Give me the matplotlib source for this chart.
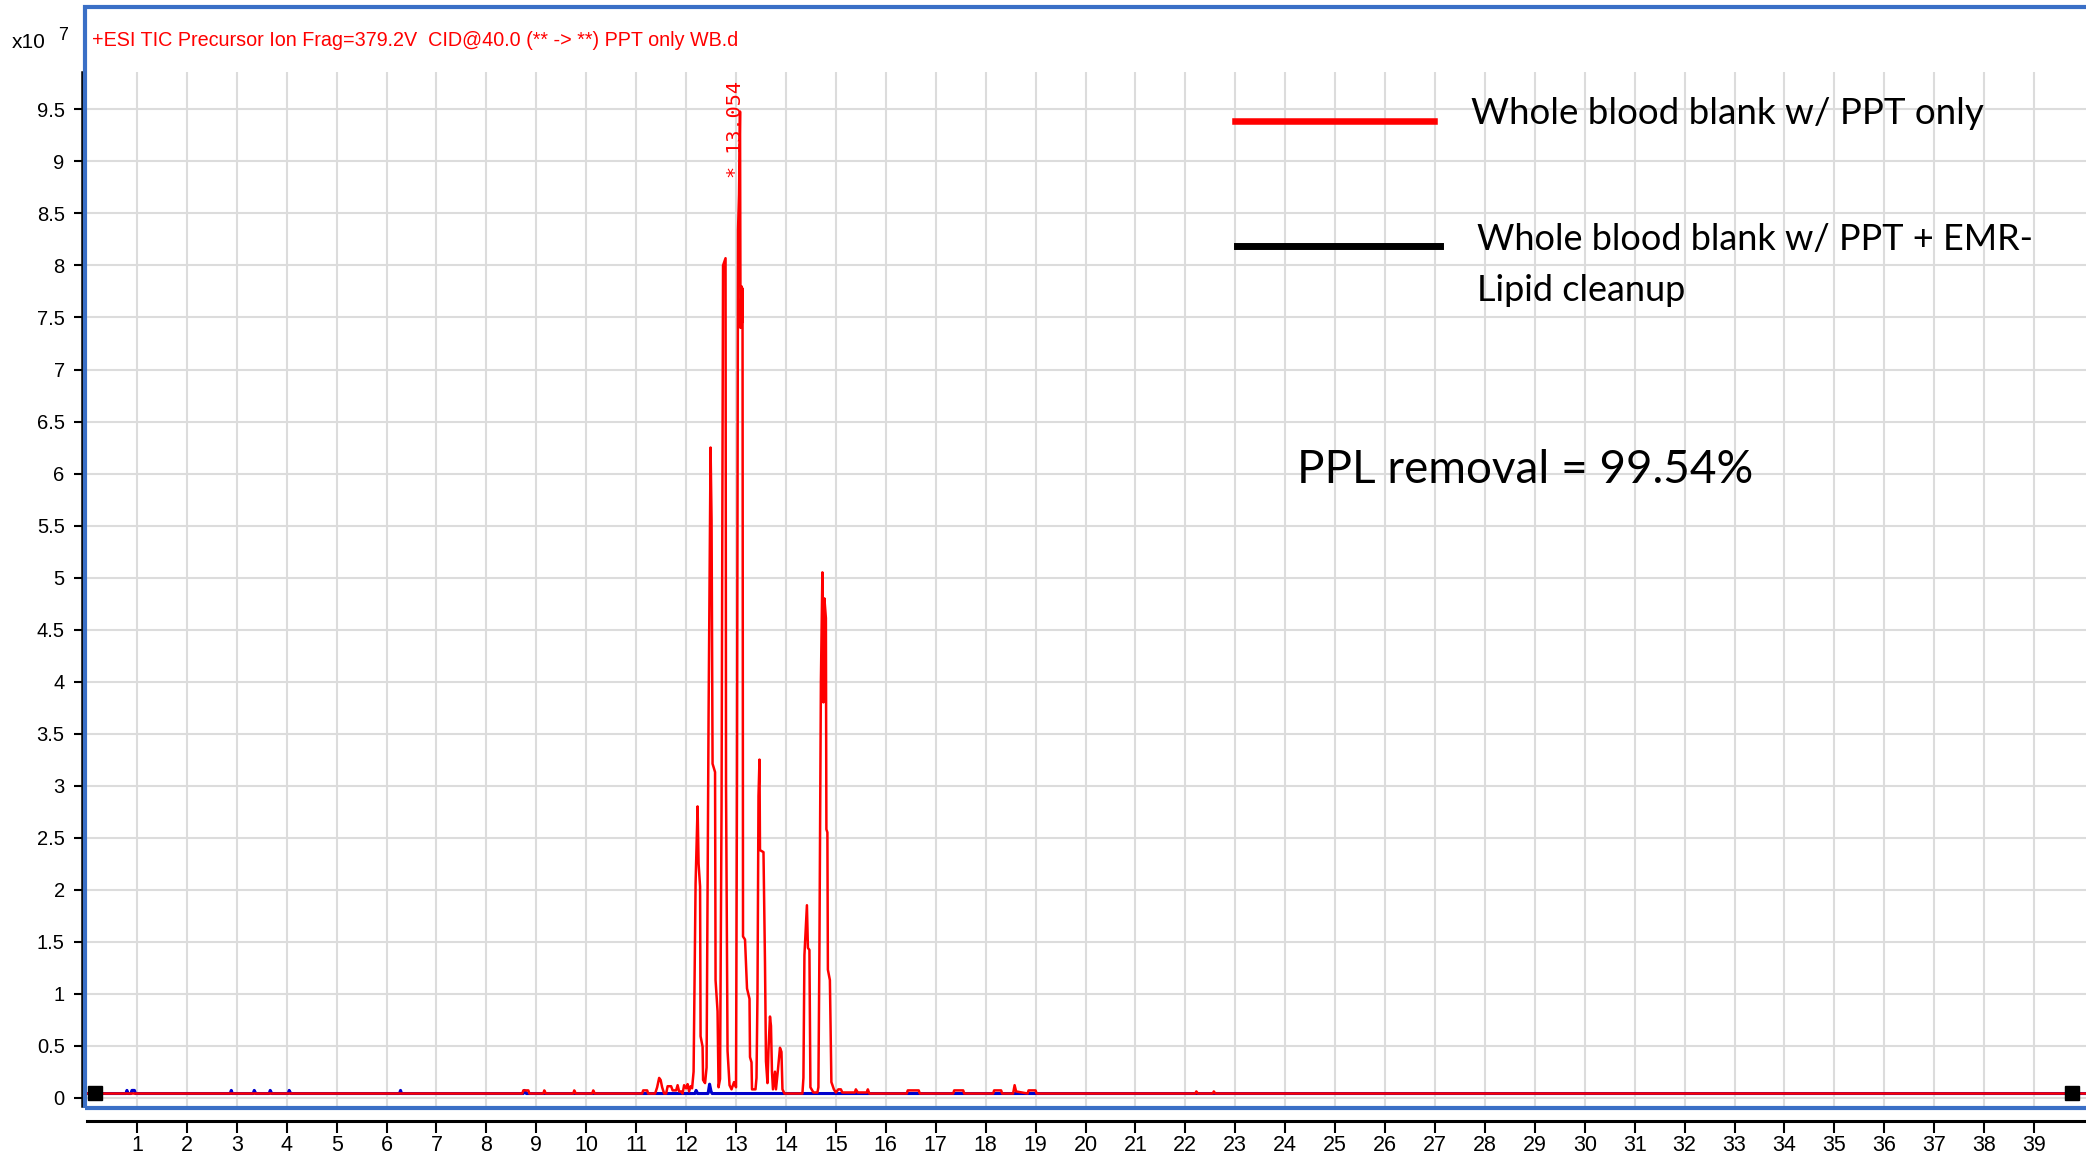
import matplotlib
matplotlib.use("Agg")
from matplotlib import pyplot as plt
from matplotlib.lines import Line2D
from matplotlib.patches import Rectangle

# retention time (min) / intensity (x10^7)
red_rt = [0.00, 8.72, 8.74, 8.84, 8.86, 9.14, 9.16, 9.19, 9.74, 9.76, 9.79, 10.12, 10.14, 10.17,
          11.12, 11.14, 11.22, 11.24, 11.38, 11.42, 11.46, 11.49, 11.52, 11.56, 11.60, 11.63,
          11.70, 11.73, 11.80, 11.83, 11.86, 11.90, 11.93, 11.96, 12.00, 12.03, 12.06, 12.09,
          12.12, 12.15, 12.19, 12.23, 12.25, 12.28, 12.29, 12.33, 12.34, 12.38, 12.41, 12.45,
          12.49, 12.51, 12.53, 12.58, 12.59, 12.63, 12.65, 12.68, 12.71, 12.74, 12.79, 12.80,
          12.83, 12.87, 12.91, 12.96, 13.00, 13.02, 13.04, 13.06, 13.08, 13.09, 13.11, 13.12,
          13.13, 13.14, 13.18, 13.22, 13.27, 13.28, 13.31, 13.32, 13.39, 13.41, 13.43, 13.45,
          13.47, 13.48, 13.55, 13.58, 13.60, 13.63, 13.65, 13.68, 13.70, 13.72, 13.74, 13.78,
          13.80, 13.84, 13.88, 13.91, 13.93, 13.97, 14.33, 14.35, 14.37, 14.42, 14.44, 14.47,
          14.49, 14.55, 14.63, 14.65, 14.67, 14.70, 14.73, 14.75, 14.77, 14.80, 14.81, 14.83,
          14.84, 14.88, 14.91, 14.96, 15.00, 15.05, 15.10, 15.13, 15.38, 15.40, 15.44, 15.62,
          15.64, 15.67, 16.42, 16.44, 16.66, 16.68, 17.35, 17.37, 17.55, 17.57, 18.15, 18.17,
          18.31, 18.33, 18.55, 18.58, 18.61, 18.84, 18.86, 19.00, 19.02, 22.20, 22.22, 22.25,
          22.55, 22.57, 22.60, 40.04]
red_tic = [0.04, 0.04, 0.07, 0.07, 0.04, 0.04, 0.07, 0.04, 0.04, 0.07, 0.04, 0.04, 0.07, 0.04,
           0.04, 0.07, 0.07, 0.04, 0.04, 0.10, 0.19, 0.17, 0.10, 0.04, 0.04, 0.11,
           0.11, 0.07, 0.07, 0.12, 0.06, 0.06, 0.04, 0.12, 0.09, 0.13, 0.06, 0.11,
           0.09, 0.25, 2.06, 2.80, 2.25, 2.03, 0.59, 0.49, 0.17, 0.14, 0.29, 3.67,
           6.25, 5.55, 3.21, 3.13, 1.13, 0.83, 0.10, 0.18, 2.80, 8.00, 8.07, 3.00,
           0.45, 0.12, 0.08, 0.15, 0.10, 3.16, 8.34, 8.68, 9.48, 7.40, 7.80, 7.45,
           7.78, 1.55, 1.52, 1.05, 0.95, 0.39, 0.34, 0.08, 0.08, 0.19, 1.00, 2.90,
           3.25, 2.38, 2.36, 1.30, 0.35, 0.14, 0.46, 0.78, 0.69, 0.25, 0.08, 0.25,
           0.08, 0.27, 0.48, 0.44, 0.08, 0.04, 0.04, 0.19, 1.37, 1.85, 1.44, 1.42,
           0.10, 0.05, 0.05, 0.10, 1.40, 4.00, 5.05, 3.80, 4.80, 4.61, 2.58, 2.55,
           1.23, 1.13, 0.15, 0.08, 0.05, 0.08, 0.08, 0.05, 0.05, 0.08, 0.05, 0.05,
           0.08, 0.04, 0.04, 0.07, 0.07, 0.04, 0.04, 0.07, 0.07, 0.04, 0.04, 0.07,
           0.07, 0.04, 0.04, 0.12, 0.06, 0.04, 0.07, 0.07, 0.04, 0.04, 0.06, 0.04,
           0.04, 0.06, 0.04, 0.04]

blue_rt = [0.00, 0.78, 0.80, 0.82, 0.88, 0.90, 0.95, 0.97, 2.87, 2.89, 2.91, 3.33, 3.35, 3.38,
           3.65, 3.67, 3.70, 4.03, 4.05, 4.08, 6.26, 6.28, 6.30, 8.74, 8.76, 8.80, 12.18,
           12.20, 12.23, 12.44, 12.47, 12.50, 12.52, 40.04]
blue_tic = [0.04, 0.04, 0.07, 0.04, 0.04, 0.07, 0.07, 0.04, 0.04, 0.07, 0.04, 0.04, 0.07, 0.04,
            0.04, 0.07, 0.04, 0.04, 0.07, 0.04, 0.04, 0.07, 0.04, 0.04, 0.07, 0.04, 0.04,
            0.07, 0.04, 0.04, 0.13, 0.06, 0.04, 0.04]

range_marks_rt = [0.17, 39.75]
x_ticks = list(range(1, 40))
y_ticks = [i * 0.5 for i in range(20)]

title = "+ESI TIC Precursor Ion Frag=379.2V  CID@40.0 (** -> **) PPT only WB.d"
peak_label = "* 13.054"
peak_rt = 12.98
legend_labels = ["Whole blood blank w/ PPT only",
                 "Whole blood blank w/ PPT + EMR-\nLipid cleanup"]
removal_text = "PPL removal = 99.54%"

W, H = 2086, 1153


def fx(x):
    return x / W


def fy(y):
    return 1 - y / H


fig = plt.figure(figsize=(W / 100, H / 100), dpi=100)
ax = fig.add_axes([fx(87), fy(1106), fx(W - 87), (1106 - 72) / H])

ax.plot(blue_rt, blue_tic, color="#0000cc", lw=2.2, zorder=3)
ax.plot(red_rt, red_tic, color="#ff0000", lw=1.8, zorder=4)
ax.plot(range_marks_rt, [0.045, 0.045], ls="none", marker="s", ms=9.5, color="black", zorder=5)

ax.text(peak_rt, 8.84, peak_label, rotation=90, ha="center", va="bottom", color="#ff0000",
        fontsize=14.5, family="DejaVu Sans Mono", zorder=6)

ax.set_xlim(0, 40.04)
ax.set_ylim(-0.08, 9.86)
ax.set_xticks(x_ticks)
ax.set_yticks(y_ticks)
ax.set_yticklabels(["%g" % v for v in y_ticks])
ax.grid(True, color="#dcdcdc", lw=1.5, zorder=0)
ax.set_axisbelow(True)

for s in ["top", "right"]:
    ax.spines[s].set_visible(False)
ax.spines["left"].set_position(("outward", 3.6))
ax.spines["bottom"].set_position(("outward", 11))
ax.spines["left"].set_linewidth(1.8)
ax.spines["bottom"].set_linewidth(2.2)
ax.tick_params(axis="y", length=5.5, width=1.5, pad=7, labelsize=14.5)
ax.tick_params(axis="x", length=8.5, width=1.5, pad=1.5, labelsize=15.5)
for lab in ax.get_xticklabels() + ax.get_yticklabels():
    lab.set_family("Liberation Sans")

# blue panel frame
fig.patches.append(Rectangle((fx(85), fy(1108)), 1.1, (1108 - 7) / H, transform=fig.transFigure,
                             fill=False, edgecolor="#3a6fc6", lw=3, zorder=10))

fig.text(fx(92), fy(40), title, color="#ff0000", fontsize=14.2, family="Liberation Sans", va="center")
fig.text(fx(12), fy(42), "x10", fontsize=15, family="Liberation Sans", va="center")
fig.text(fx(58), fy(36), "7", fontsize=13, family="Liberation Sans", va="center")

# legend drawn as a note box
fig.lines.append(Line2D([fx(1235), fx(1434)], [fy(121), fy(121)], color="#ff0000", lw=4.7,
                        transform=fig.transFigure))
fig.lines.append(Line2D([fx(1237), fx(1440)], [fy(246), fy(246)], color="black", lw=5,
                        transform=fig.transFigure))
fig.text(fx(1471), fy(114), legend_labels[0], fontsize=26.5, family="Lato", va="center")
fig.text(fx(1477), fy(265), legend_labels[1], fontsize=26, family="Lato", va="center",
         linespacing=1.65)
fig.text(fx(1297), fy(470), removal_text, fontsize=33, family="Lato", va="center")

plt.savefig("out.png", dpi=100)
